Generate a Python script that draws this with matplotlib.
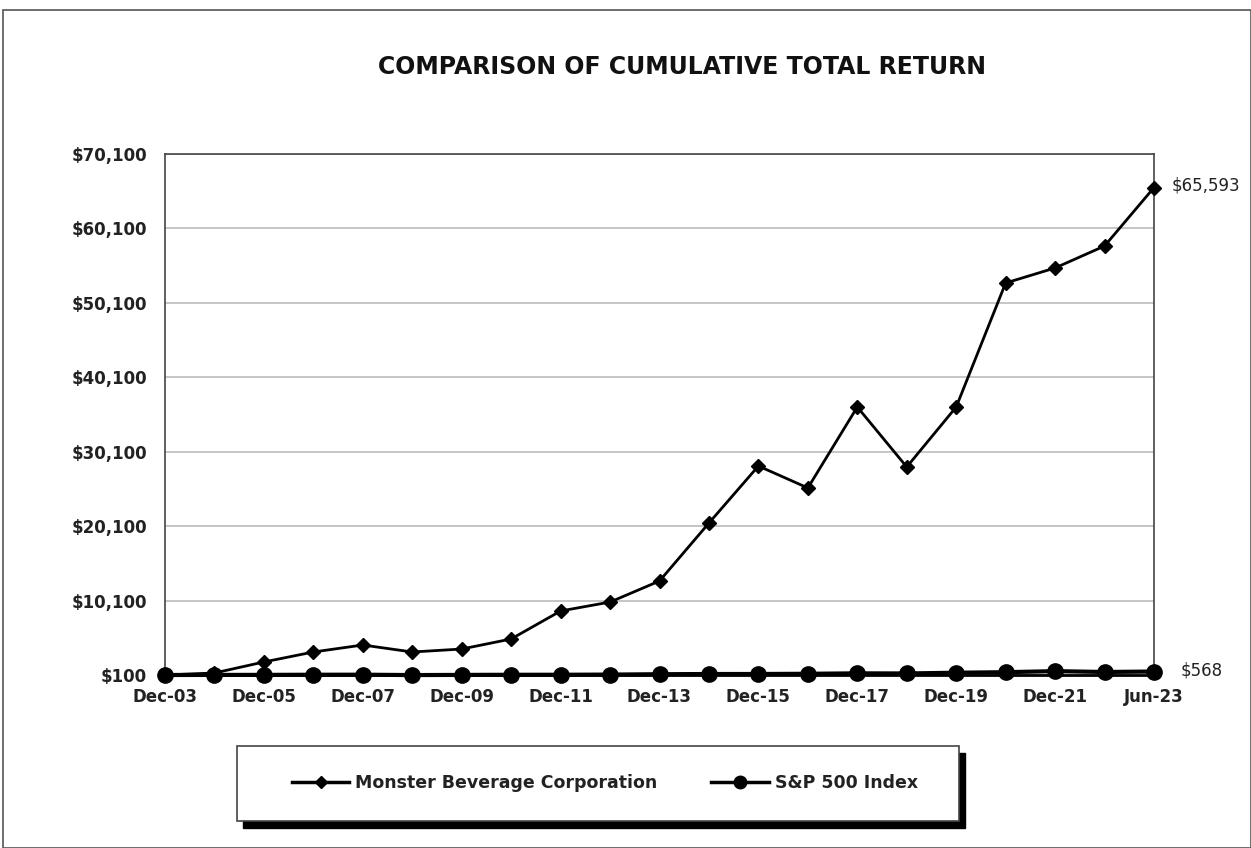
import numpy as np
import matplotlib
matplotlib.use("Agg")
import matplotlib.pyplot as plt
from matplotlib.patches import Rectangle
from matplotlib.lines import Line2D

plt.rcParams['font.family'] = ['DejaVu Sans']

# data
periods = ["Dec-03", "Dec-04", "Dec-05", "Dec-06", "Dec-07", "Dec-08", "Dec-09",
           "Dec-10", "Dec-11", "Dec-12", "Dec-13", "Dec-14", "Dec-15", "Dec-16",
           "Dec-17", "Dec-18", "Dec-19", "Dec-20", "Dec-21", "Dec-22", "Jun-23"]
monster = [100, 370, 1850, 3190, 4130, 3190, 3590, 4940, 8700, 9900, 12730,
           20520, 28180, 25230, 36110, 28050, 36110, 52770, 54790, 57740, 65593]
sp500 = [100, 111, 116, 135, 142, 90, 113, 130, 133, 155, 205, 233, 236, 264,
         322, 308, 405, 479, 617, 505, 568]
y_ticks = [100, 10100, 20100, 30100, 40100, 50100, 60100, 70100]

W, H = 1251, 848
fig = plt.figure(figsize=(W / 100, H / 100), dpi=100)

# outer frame
fig.patches.append(Rectangle((3 / W, 0), 1 - 3 / W, 1 - 10 / H, transform=fig.transFigure,
                             fill=False, edgecolor="#555555", linewidth=1.2))

ax = fig.add_axes([165 / W, 173 / H, 989 / W, 521 / H])
x = np.arange(len(periods))

ax.plot(x, sp500, color="black", linewidth=3, marker="o", markersize=11, zorder=3,
        clip_on=False, label="S&P 500 Index")
ax.plot(x, monster, color="black", linewidth=2, marker="D", markersize=7.5, zorder=4,
        clip_on=False, label="Monster Beverage Corporation")

ax.set_xlim(0, len(periods) - 1)
ax.set_ylim(y_ticks[0], y_ticks[-1])
ax.set_yticks(y_ticks)
ax.set_yticklabels(["${:,}".format(v) for v in y_ticks], fontsize=12, fontweight="bold",
                   color="#222222")
ax.set_xticks(x[::2])
ax.set_xticks(x[1::2], minor=True)
ax.set_xticklabels(periods[::2], fontsize=12, fontweight="bold", color="#222222")
ax.tick_params(axis="y", length=0, pad=13)
ax.tick_params(axis="x", which="both", length=5, width=1.5, direction="inout", pad=7)
ax.grid(axis="y", color="#bbbbbb", linewidth=1.2)
ax.set_axisbelow(True)
for side in ["left", "top", "right"]:
    ax.spines[side].set_color("#444444")
    ax.spines[side].set_linewidth(1.2)
ax.spines["bottom"].set_color("black")
ax.spines["bottom"].set_linewidth(2)

# end labels
ax.annotate("${:,}".format(monster[-1]), (x[-1], monster[-1]), xytext=(13, 1.5),
            textcoords="offset points", va="center", ha="left", fontsize=12,
            color="#222222")
ax.annotate("${:,}".format(sp500[-1]), (x[-1], sp500[-1]), xytext=(19.5, 1),
            textcoords="offset points", va="center", ha="left", fontsize=12,
            color="#222222")

fig.text(682 / W, 1 - 66.5 / H, "COMPARISON OF CUMULATIVE TOTAL RETURN",
         ha="center", va="center", fontsize=17, fontweight="bold", color="#111111")

# legend box with shadow
bx0, by0, bx1, by1 = 237, 746, 959, 821
fig.patches.append(Rectangle(((bx0 + 6) / W, 1 - (by1 + 7) / H), (bx1 - bx0) / W, (by1 - by0) / H,
                             transform=fig.transFigure, facecolor="black", edgecolor="black", zorder=1))
fig.patches.append(Rectangle((bx0 / W, 1 - by1 / H), (bx1 - bx0) / W, (by1 - by0) / H,
                             transform=fig.transFigure, facecolor="white", edgecolor="#444444",
                             linewidth=1.2, zorder=2))
handles = [Line2D([], [], color="black", linewidth=2.5, marker="D", markersize=6),
           Line2D([], [], color="black", linewidth=2.5, marker="o", markersize=9)]
leg = fig.legend(handles, ["Monster Beverage Corporation", "S&P 500 Index"],
                 loc="center left", bbox_to_anchor=(292 / W, 1 - 783 / H), ncol=2,
                 frameon=False, borderpad=0, borderaxespad=0, handlelength=3.3,
                 handletextpad=0.35, columnspacing=3.1,
                 prop={"size": 12.5, "weight": "bold"})
for t in leg.get_texts():
    t.set_color("#222222")
leg.set_zorder(3)

fig.savefig("out.png", dpi=100)
